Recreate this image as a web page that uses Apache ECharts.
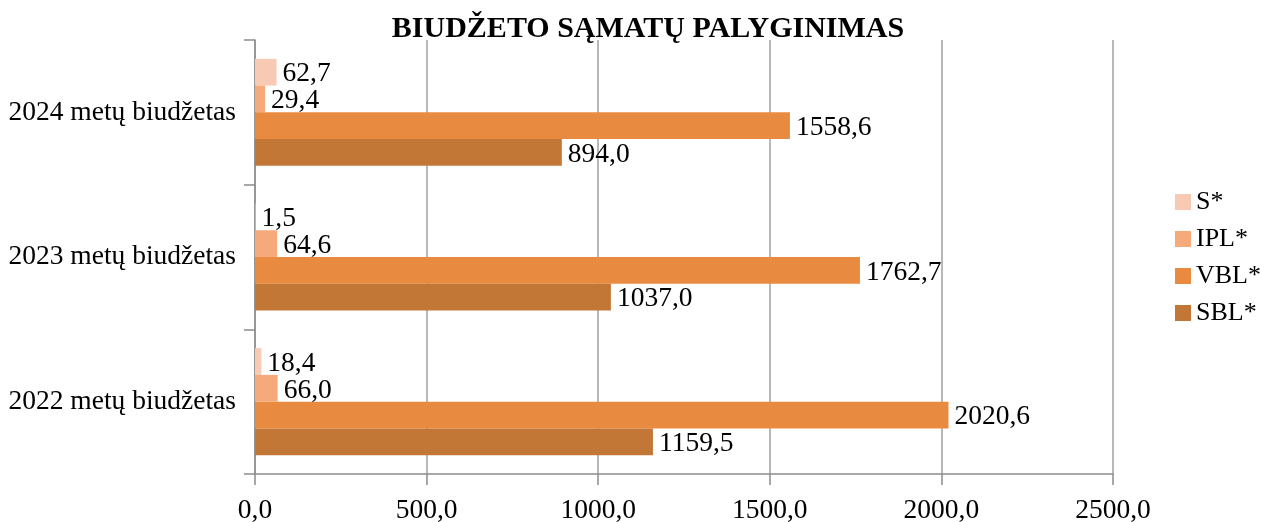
<!DOCTYPE html>
<html>
<head>
<meta charset="utf-8">
<script src="https://cdn.jsdelivr.net/npm/echarts@6/dist/echarts.min.js"></script>
<style>
    html, body { margin: 0; padding: 0; background: #fff; }
    #chart { width: 1261px; height: 522px; }
</style>
</head>
<body>
<div id="chart"></div>
<script>
'use strict';
// categories from bottom to top
var categories = ['2022 metų biudžetas', '2023 metų biudžetas', '2024 metų biudžetas'];
var seriesNames = ['S*', 'IPL*', 'VBL*', 'SBL*'];
var sData = [18.4, 1.5, 62.7];
var iplData = [66.0, 64.6, 29.4];
var vblData = [2020.6, 1762.7, 1558.6];
var sblData = [1159.5, 1037.0, 894.0];
var xTicks = [0, 500, 1000, 1500, 2000, 2500];

var FONT = '"Liberation Serif", "Times New Roman", serif';

function fmt(v) {
    return Number(v).toFixed(1).replace('.', ',');
}

function makeSeries(name, data, color) {
    return {
        name: name,
        type: 'bar',
        data: data,
        barGap: '0%',
        barCategoryGap: '26%',
        itemStyle: { color: color },
        label: {
            show: true,
            position: 'right',
            distance: 6,
            offset: [0, 2],
            color: '#000',
            fontFamily: FONT,
            fontSize: 27.5,
            formatter: function (p) { return fmt(p.value); }
        }
    };
}

var myChart = echarts.init(document.getElementById('chart'));

var option = {
    animation: false,
    title: {
        text: 'BIUDŽETO SĄMATŲ PALYGINIMAS',
        left: 643,
        textAlign: 'center',
        top: 9,
        textStyle: {
            fontFamily: FONT,
            fontWeight: 'bold',
            fontSize: 30,
            color: '#000'
        }
    },
    legend: {
        orient: 'vertical',
        left: 1170,
        top: 184,
        itemWidth: 16,
        itemHeight: 16,
        itemGap: 11,
        icon: 'rect',
        data: seriesNames,
        textStyle: {
            fontFamily: FONT,
            fontSize: 26,
            color: '#000'
        }
    },
    grid: {
        left: 255,
        right: 148,
        top: 40,
        bottom: 48,
        containLabel: false,
        outerBoundsMode: 'none'
    },
    xAxis: {
        type: 'value',
        min: xTicks[0],
        max: xTicks[xTicks.length - 1],
        interval: 500,
        axisLine: { show: true, lineStyle: { color: '#8c8c8c', width: 1.5 } },
        axisTick: { show: true, length: 11, lineStyle: { color: '#8c8c8c', width: 1.5 } },
        splitLine: { show: true, lineStyle: { color: '#a0a0a0', width: 1.5 } },
        axisLabel: {
            margin: 23,
            color: '#000',
            fontFamily: FONT,
            fontSize: 27.5,
            formatter: function (v) { return fmt(v); }
        }
    },
    yAxis: {
        type: 'category',
        data: categories,
        axisLine: { show: true, lineStyle: { color: '#8c8c8c', width: 1.5 } },
        axisTick: { show: true, length: 11, lineStyle: { color: '#8c8c8c', width: 1.5 } },
        axisLabel: {
            margin: 19,
            color: '#000',
            fontFamily: FONT,
            fontSize: 27.5
        }
    },
    // first series is drawn at the top of each band
    series: [
        makeSeries('S*', sData, '#F9CAB3'),
        makeSeries('IPL*', iplData, '#F6AA7B'),
        makeSeries('VBL*', vblData, '#E88B41'),
        makeSeries('SBL*', sblData, '#C37737')
    ]
};

myChart.setOption(option);
window.onresize = function () {
    myChart.resize();
};
</script>
</body>
</html>
